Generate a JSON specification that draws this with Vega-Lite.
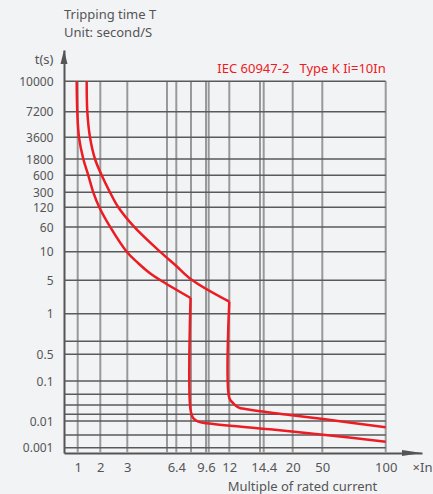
{
  "$schema": "https://vega.github.io/schema/vega-lite/v6.json",
  "width": 358,
  "height": 403,
  "autosize": {"type": "none"},
  "padding": {"left": 64, "top": 50, "right": 11, "bottom": 41},
  "background": "#f2f3f5",
  "config": {
    "view": {"stroke": null},
    "font": "Noto Sans",
    "axis": {"grid": false, "ticks": false, "labelFontSize": 13, "labelColor": "#555555", "labelOverlap": false, "labelFlush": false, "labelBound": false, "domain": true, "domainColor": "#555555", "domainWidth": 2, "titleFontSize": 13, "titleFontWeight": "normal", "titleColor": "#555555"},
    "axisX": {"labelPadding": 8},
    "axisY": {"labelPadding": 11, "labelFontSize": 12}
  },
  "title": {"text": ["Tripping time T", "Unit: second/S"], "anchor": "start", "frame": "group", "offset": 10, "fontSize": 13, "fontWeight": "normal", "color": "#555555", "lineHeight": 18},
  "resolve": {"axis": {"x": "independent", "y": "independent"}},
  "datasets": {
    "curves": [
      {"curve": "A", "part": "upper", "i": 0, "x": 0.956, "y": 10000},
      {"curve": "A", "part": "upper", "i": 1, "x": 0.982, "y": 7200},
      {"curve": "A", "part": "upper", "i": 2, "x": 1.058, "y": 3600},
      {"curve": "A", "part": "upper", "i": 3, "x": 1.248, "y": 1800},
      {"curve": "A", "part": "upper", "i": 4, "x": 1.469, "y": 600},
      {"curve": "A", "part": "upper", "i": 5, "x": 1.69, "y": 300},
      {"curve": "A", "part": "upper", "i": 6, "x": 1.956, "y": 120},
      {"curve": "A", "part": "upper", "i": 7, "x": 2.359, "y": 61},
      {"curve": "A", "part": "upper", "i": 8, "x": 2.978, "y": 10},
      {"curve": "A", "part": "upper", "i": 9, "x": 3.81, "y": 8.02},
      {"curve": "A", "part": "upper", "i": 10, "x": 4.715, "y": 6.22},
      {"curve": "A", "part": "upper", "i": 11, "x": 5.471, "y": 5.05},
      {"curve": "A", "part": "upper", "i": 12, "x": 7.95, "y": 2.88},
      {"curve": "A", "part": "lower", "i": 12, "x": 7.95, "y": 2.88},
      {"curve": "A", "part": "lower", "i": 13, "x": 7.95, "y": 0.0246},
      {"curve": "A", "part": "lower", "i": 14, "x": 8.245, "y": 0.01403},
      {"curve": "A", "part": "lower", "i": 15, "x": 8.779, "y": 0.00975},
      {"curve": "A", "part": "lower", "i": 16, "x": 9.704, "y": 0.00918},
      {"curve": "A", "part": "lower", "i": 17, "x": 15.617, "y": 0.00704},
      {"curve": "A", "part": "lower", "i": 18, "x": 50.55, "y": 0.00511},
      {"curve": "A", "part": "lower", "i": 19, "x": 100, "y": 0.00289},
      {"curve": "B", "part": "upper", "i": 0, "x": 1.398, "y": 10000},
      {"curve": "B", "part": "upper", "i": 1, "x": 1.425, "y": 7200},
      {"curve": "B", "part": "upper", "i": 2, "x": 1.544, "y": 3600},
      {"curve": "B", "part": "upper", "i": 3, "x": 1.765, "y": 1800},
      {"curve": "B", "part": "upper", "i": 4, "x": 2.052, "y": 600},
      {"curve": "B", "part": "upper", "i": 5, "x": 2.359, "y": 300},
      {"curve": "B", "part": "upper", "i": 6, "x": 2.667, "y": 120},
      {"curve": "B", "part": "upper", "i": 7, "x": 3.506, "y": 61},
      {"curve": "B", "part": "upper", "i": 8, "x": 5.471, "y": 10},
      {"curve": "B", "part": "upper", "i": 9, "x": 6.4, "y": 7.5},
      {"curve": "B", "part": "upper", "i": 10, "x": 8.107, "y": 5.05},
      {"curve": "B", "part": "upper", "i": 11, "x": 12, "y": 2.437},
      {"curve": "B", "part": "lower", "i": 11, "x": 12, "y": 2.437},
      {"curve": "B", "part": "lower", "i": 12, "x": 12, "y": 0.0431},
      {"curve": "B", "part": "lower", "i": 13, "x": 12.26, "y": 0.0332},
      {"curve": "B", "part": "lower", "i": 14, "x": 12.586, "y": 0.0275},
      {"curve": "B", "part": "lower", "i": 15, "x": 13.134, "y": 0.0254},
      {"curve": "B", "part": "lower", "i": 16, "x": 19.479, "y": 0.01896},
      {"curve": "B", "part": "lower", "i": 17, "x": 50.79, "y": 0.01299},
      {"curve": "B", "part": "lower", "i": 18, "x": 100, "y": 0.00775}
    ],
    "hgrid": [
      {"y": 0.001}, {"y": 0.005}, {"y": 0.01}, {"y": 0.02}, {"y": 0.03}, {"y": 0.05}, {"y": 0.1},
      {"y": 0.5}, {"y": 0.7}, {"y": 1}, {"y": 5}, {"y": 10}, {"y": 60}, {"y": 120}, {"y": 300},
      {"y": 600}, {"y": 1800}, {"y": 3600}, {"y": 7200}, {"y": 10000}
    ],
    "vgrid": [
      {"x": 1}, {"x": 2}, {"x": 3}, {"x": 6}, {"x": 6.4}, {"x": 8}, {"x": 9.6}, {"x": 10},
      {"x": 12}, {"x": 14}, {"x": 14.4}, {"x": 20}, {"x": 50}, {"x": 100}
    ],
    "note": [{"x": 100, "y": 10000, "label": "IEC 60947-2\u00a0\u00a0\u00a0Type K Ii=10In"}],
    "xarrow": [{"x": 130, "y": 0.0005}],
    "yarrow": [{"x": 0.4, "y": 15000}]
  },
  "layer": [
    {
      "data": {"name": "vgrid"},
      "mark": {"type": "rule", "color": "#999999", "strokeWidth": 2},
      "encoding": {
        "x": {"field": "x", "type": "quantitative", "axis": null},
        "y": {"datum": 10000, "type": "quantitative", "axis": null},
        "y2": {"datum": 0.0005}
      }
    },
    {
      "data": {"name": "hgrid"},
      "mark": {"type": "rule", "color": "#5a5a5a", "strokeWidth": 1.5},
      "encoding": {
        "y": {"field": "y", "type": "quantitative", "axis": null},
        "x": {"datum": 0.4, "type": "quantitative", "axis": null},
        "x2": {"datum": 100}
      }
    },
    {
      "data": {"name": "curves"},
      "transform": [{"filter": "datum.part == 'upper'"}],
      "mark": {"type": "line", "color": "#ec1c24", "strokeWidth": 2.5, "interpolate": "catmull-rom"},
      "encoding": {
        "x": {"field": "x", "type": "quantitative",
          "scale": {"type": "linear", "domain": [0.4, 1, 2, 3, 6, 6.4, 8, 9.6, 10, 12, 14, 14.4, 20, 50, 100, 130], "range": [0, 13.7, 36.3, 63.3, 103, 112.3, 127, 142, 144.7, 165.3, 196, 199.7, 228.7, 258.3, 321.7, 358], "zero": false, "nice": false},
          "axis": {"orient": "bottom", "values": [1, 2, 3, 6.4, 9.6, 12, 14.4, 20, 50, 100, 130], "labelExpr": "datum.value == 130 ? '×In' : '' + datum.value", "labelOverlap": false, "title": "Multiple of rated current", "titleX": 238, "titleY": 33, "titleAlign": "center", "titleBaseline": "middle"}},
        "y": {"field": "y", "type": "quantitative",
          "scale": {"type": "linear", "domain": [0.0005, 0.001, 0.005, 0.01, 0.02, 0.03, 0.05, 0.1, 0.5, 0.7, 1, 5, 10, 60, 120, 300, 600, 1800, 3600, 7200, 10000, 15000], "range": [403, 397.7, 385, 371, 364.3, 355, 344.3, 331, 304.3, 291.3, 263.7, 230.3, 201.7, 177, 157.3, 142.3, 125.3, 109, 87.3, 61.7, 31.3, 0], "zero": false, "nice": false},
          "axis": {"orient": "left", "values": [0.001, 0.01, 0.1, 0.5, 1, 5, 10, 60, 120, 300, 600, 1800, 3600, 7200, 10000], "labelExpr": "'' + datum.value", "labelOverlap": false, "title": "t(s)", "titleAngle": 0, "titleX": -11, "titleY": 9, "titleAlign": "right", "titleBaseline": "middle"}},
        "detail": {"field": "curve"},
        "order": {"field": "i", "type": "quantitative"}
      }
    },
    {
      "data": {"name": "curves"},
      "transform": [{"filter": "datum.part == 'lower'"}],
      "mark": {"type": "line", "color": "#ec1c24", "strokeWidth": 2.5, "interpolate": "catmull-rom"},
      "encoding": {
        "x": {"field": "x", "type": "quantitative", "axis": null},
        "y": {"field": "y", "type": "quantitative", "axis": null},
        "detail": {"field": "curve"},
        "order": {"field": "i", "type": "quantitative"}
      }
    },
    {
      "data": {"name": "note"},
      "mark": {"type": "text", "align": "right", "baseline": "bottom", "dy": -5, "fontSize": 13, "color": "#ec1c24"},
      "encoding": {
        "x": {"field": "x", "type": "quantitative", "axis": null},
        "y": {"field": "y", "type": "quantitative", "axis": null},
        "text": {"field": "label"}
      }
    },
    {
      "data": {"name": "xarrow"},
      "mark": {"type": "point", "shape": "M0,0L-2,-0.3L-2,0.3Z", "size": 400, "filled": true, "color": "#555555", "opacity": 1},
      "encoding": {
        "x": {"field": "x", "type": "quantitative", "axis": null},
        "y": {"field": "y", "type": "quantitative", "axis": null}
      }
    },
    {
      "data": {"name": "yarrow"},
      "mark": {"type": "point", "shape": "M0,0L-0.35,1.4L0.35,1.4Z", "size": 400, "filled": true, "color": "#555555", "opacity": 1},
      "encoding": {
        "x": {"field": "x", "type": "quantitative", "axis": null},
        "y": {"field": "y", "type": "quantitative", "axis": null}
      }
    }
  ]
}
